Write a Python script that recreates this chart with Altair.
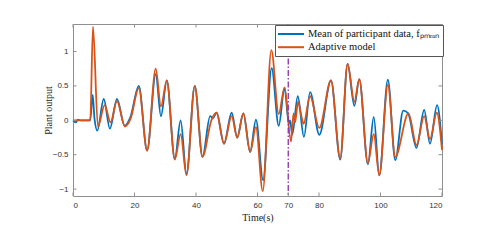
import altair as alt
import pandas as pd

# ---- data ----
t_mean = [0, 0.9, 1.6, 2.5, 5.6, 6.4, 7.0, 7.9, 10.0, 12.0, 14.3, 16.8, 18.7, 21.4, 24.1,
          26.9, 28.6, 30.5, 33.1, 35.0, 36.9, 39.6, 42.1, 44.6, 45.5, 46.7, 49.1, 51.6, 53.4,
          55.4, 57.6, 59.5, 61.8, 64.6, 66.9, 68.8, 70.2, 70.6, 71.3, 73.1, 75.1, 77.1, 80.1,
          83.9, 86.9, 89.3, 91.5, 93.1, 95.9, 97.8, 99.6, 102.4, 104.8, 107.4, 109.0, 111.7,
          114.2, 116.1, 118.4, 120]
v_mean = [0, -0.03, 0.01, 0.0, 0.0, 0.37, 0.02, -0.15, 0.31, -0.12, 0.31, -0.08, 0.05, 0.5, -0.44,
          0.67, 0.06, 0.58, -0.56, 0.0, -0.78, 0.5, -0.53, 0.06, 0.03, 0.11, -0.34, 0.11, -0.25,
          0.1, -0.46, 0.01, -0.87, 0.76, -0.08, 0.47, -0.05, 0.0, -0.21, 0.35, -0.24, 0.41, -0.21,
          0.58, -0.57, 0.82, 0.21, 0.6, -0.64, 0.05, -0.8, 0.59, -0.58, 0.14, 0.1, -0.4,
          0.15, -0.34, 0.22, -0.35]

t_model = [0, 5.6, 6.5, 8.1, 10.3, 12.2, 14.3, 16.9, 18.7, 21.4, 24.1, 26.9, 28.6, 30.5, 33.1,
           35.0, 36.9, 39.6, 42.1, 45.0, 46.7, 49.1, 51.6, 53.4, 55.4, 57.6, 59.5, 61.7, 64.5,
           66.9, 68.8, 70.9, 71.7, 72.2, 73.2, 74.0, 75.0, 77.1, 80.1, 83.9, 86.9, 89.3, 91.5,
           93.1, 95.9, 97.8, 99.6, 102.4, 104.8, 109.1, 111.7, 114.2, 116.1, 118.3, 120]
v_model = [0, 0.0, 1.36, -0.09, 0.22, -0.03, 0.28, -0.09, 0.02, 0.47, -0.44, 0.75, 0.2, 0.58, -0.57,
           -0.2, -0.8, 0.5, -0.53, 0.0, 0.11, -0.34, 0.06, -0.25, 0.1, -0.46, -0.1, -1.03, 1.02,
           0.09, 0.48, -0.31, 0.1, -0.03, 0.27, 0.12, -0.05, 0.35, -0.11, 0.58, -0.55, 0.82, 0.27,
           0.6, -0.62, -0.2, -0.8, 0.52, -0.53, 0.1, -0.36, 0.06, -0.27, 0.11, -0.43]

series_names = ["Mean of participant data, fₚₘₑₐₙ", "Adaptive model"]
series_colors = ["#0072BD", "#D95319"]
switch_time = [70]
x_ticks = [0, 20, 40, 60, 70, 80, 100, 120]
y_ticks = [-1, -0.5, 0, 0.5, 1]
x_domain = [0, 120]
y_domain = [-1.1, 1.4]

W, H = 369, 172
FRAME = "#8f8f8f"

df = pd.concat([
    pd.DataFrame({"t": t_mean, "v": v_mean, "series": series_names[0], "order": 0}),
    pd.DataFrame({"t": t_model, "v": v_model, "series": series_names[1], "order": 1}),
])

xs = alt.Scale(domain=x_domain, nice=False, zero=False)
ys = alt.Scale(domain=y_domain, nice=False, zero=False)

x_axis = alt.Axis(
    values=x_ticks, title="Time(s)", grid=False, domain=False, ticks=False,
    labelFont="Liberation Sans", labelFontSize=8, labelColor="#333333", labelPadding=5,
    titleFont="Liberation Serif", titleFontSize=10, titleFontWeight="normal",
    titleColor="#222222", titlePadding=3)
y_axis = alt.Axis(
    values=y_ticks, format="~g", title="Plant output", grid=False, domain=False, ticks=False,
    labelFont="Liberation Sans", labelFontSize=8, labelColor="#333333", labelPadding=5,
    titleFont="Liberation Serif", titleFontSize=10, titleFontWeight="normal",
    titleColor="#222222", titlePadding=-1)

lines = alt.Chart(df).mark_line(strokeWidth=1.8, interpolate="monotone").encode(
    x=alt.X("t:Q", scale=xs, axis=x_axis),
    y=alt.Y("v:Q", scale=ys, axis=y_axis),
    color=alt.Color("series:N", sort=series_names,
                    scale=alt.Scale(domain=series_names, range=series_colors),
                    legend=alt.Legend(
                        orient="none", legendX=202, legendY=1, title=None,
                        symbolType="M-2.6,0H2.6", symbolSize=100, symbolStrokeWidth=2,
                        symbolOffset=7,
                        labelFont="Liberation Serif", labelFontSize=10.5, labelColor="#111111",
                        labelLimit=400, strokeColor="#555555", fillColor="white",
                        padding=3, rowPadding=1.2, labelOffset=11)),
    order="order:Q",
    detail="series:N",
)

vline = alt.Chart(pd.DataFrame({"t": switch_time})).mark_rule(
    color="#8E2FB0", strokeWidth=1.3, strokeDash=[6, 2, 1.5, 2]
).encode(x=alt.X("t:Q", scale=xs, axis=x_axis))

xt = pd.DataFrame({"t": x_ticks})
yt = pd.DataFrame({"v": y_ticks})
tick_style = dict(color=FRAME, strokeWidth=1)
bt = alt.Chart(xt).mark_rule(**tick_style).encode(
    x=alt.X("t:Q", scale=xs, axis=x_axis), y=alt.value(H), y2=alt.value(H - 3.5))
tt = alt.Chart(xt).mark_rule(**tick_style).encode(
    x=alt.X("t:Q", scale=xs, axis=x_axis), y=alt.value(0), y2=alt.value(3.5))
lt = alt.Chart(yt).mark_rule(**tick_style).encode(
    y=alt.Y("v:Q", scale=ys, axis=y_axis), x=alt.value(0), x2=alt.value(3.5))
rt = alt.Chart(yt).mark_rule(**tick_style).encode(
    y=alt.Y("v:Q", scale=ys, axis=y_axis), x=alt.value(W), x2=alt.value(W - 3.5))

chart = alt.layer(lines, vline, bt, tt, lt, rt).properties(
    width=W, height=H,
    autosize=alt.AutoSizeParams(type="none"),
    padding={"left": 65, "top": 16, "right": 35, "bottom": 35},
    background="white",
).configure_view(stroke=FRAME, strokeWidth=1)

chart.save("out.html", embed_options={"renderer": "svg", "actions": False})
